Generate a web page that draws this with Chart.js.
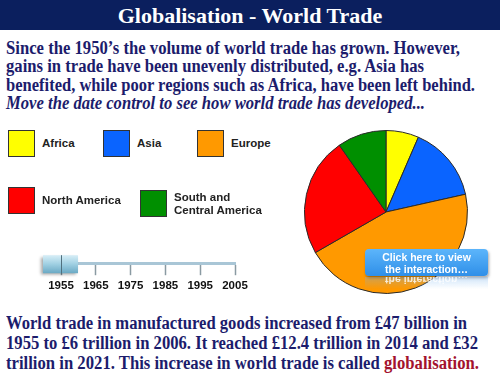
<!DOCTYPE html>
<html>
<head>
<meta charset="utf-8">
<script src="https://cdn.jsdelivr.net/npm/chart.js@4"></script>
<style>
  body { margin: 0; width: 500px; height: 375px; background: #fff; position: relative; overflow: hidden; font-family: "Liberation Serif", serif; }
  .bar { position: absolute; left: 0; top: 0; width: 500px; height: 30px; background: #0b1f5e; color: #fff; font-weight: bold; font-size: 22px; text-align: center; line-height: 31px; }
  .line { position: absolute; left: 6px; color: #1c1c6c; font-weight: bold; font-size: 18px; white-space: nowrap; transform-origin: 0 50%; }
  .red { color: #a3122e; }
  .key { position: absolute; width: 25px; height: 25px; border: 1px solid #333; }
  .keylabel { position: absolute; font-family: "Liberation Sans", sans-serif; font-weight: bold; font-size: 11.5px; color: #222; line-height: 13px; }
  #pie { position: absolute; left: 304px; top: 130px; }
  #slider { position: absolute; left: 20px; top: 213px; }
  .btn { position: absolute; left: 365px; top: 249px; width: 123px; height: 27px; border-radius: 4px; background: linear-gradient(#5cb5fb, #2f8fe8); box-shadow: 1px 2px 3px rgba(0,0,0,0.35); color: #fff; font-family: "Liberation Sans", sans-serif; font-weight: bold; font-size: 10.5px; line-height: 12px; text-align: center; padding-top: 2px; box-sizing: border-box; }
  .refl { position: absolute; left: 365px; top: 277px; width: 123px; height: 12px; overflow: hidden; background: linear-gradient(rgba(120,180,240,0.35), rgba(255,255,255,0)); color: rgba(255,255,255,0.8); font-family: "Liberation Sans", sans-serif; font-weight: bold; font-size: 10.5px; text-align: center; }
  .refl span { display: block; transform: scaleY(-1); line-height: 12px; margin-top: -3px; }
</style>
</head>
<body>
<div class="bar">Globalisation - World Trade</div>
<div class="line" data-w="454" style="top:38px">Since the 1950’s the volume of world trade has grown. However,</div>
<div class="line" data-w="418" style="top:56px">gains in trade have been unevenly distributed, e.g. Asia has</div>
<div class="line" data-w="469" style="top:75px">benefited, while poor regions such as Africa, have been left behind.</div>
<div class="line" data-w="419" style="top:93px"><i>Move the date control to see how world trade has developed...</i></div>

<canvas id="slider" width="240" height="84"></canvas>
<div id="legend"></div>
<canvas id="pie" width="164" height="164"></canvas>

<div class="btn">Click here to view<br>the interaction…</div>
<div class="refl"><span>the interaction…</span></div>

<div class="line" data-w="461" style="top:313px">World trade in manufactured goods increased from £47 billion in</div>
<div class="line" data-w="472" style="top:333px">1955 to £6 trillion in 2006. It reached £12.4 trillion in 2014 and £32</div>
<div class="line" data-w="473" style="top:353px">trillion in 2021. This increase in world trade is called <span class="red">globalisation.</span></div>

<script>
const regions = ["Africa", "Asia", "Europe", "North America", "South and Central America"];
const shares = [6.5, 15, 45.2, 23.6, 9.7];
const regionColours = ["#ffff00", "#0a64ff", "#ff9900", "#ff0000", "#008f00"];
const years = ["1955", "1965", "1975", "1985", "1995", "2005"];
const selectedYear = "1955";

// squeeze each text line to the width it has on the slide
for (let el of document.querySelectorAll(".line")) {
  const w = el.getBoundingClientRect().width;
  el.style.transform = "scaleX(" + (Number(el.dataset.w) / w) + ")";
}

// legend boxes, laid out like the slide
const legendSpots = [[8, 130], [103, 130], [197, 130], [8, 187], [140, 190]];
const legend = document.getElementById("legend");
regions.forEach((name, i) => {
  const [x, y] = legendSpots[i];
  const box = document.createElement("div");
  box.className = "key";
  box.style.left = x + "px";
  box.style.top = y + "px";
  box.style.background = regionColours[i];
  legend.append(box);
  const lab = document.createElement("div");
  lab.className = "keylabel";
  lab.style.left = (x + 34) + "px";
  if (name == "South and Central America") {
    lab.innerHTML = "South and<br>Central America";
    lab.style.top = (y + 1) + "px";
  } else {
    lab.textContent = name;
    lab.style.top = (y + 7) + "px";
  }
  legend.append(lab);
});

new Chart(document.getElementById("pie"), {
  type: "pie",
  data: {
    labels: regions,
    datasets: [{
      data: shares,
      backgroundColor: regionColours,
      borderColor: "#2a2a2a",
      borderWidth: 1,
    }],
  },
  options: {
    responsive: false,
    animation: false,
    layout: { padding: 0 },
    plugins: { legend: { display: false }, tooltip: { enabled: false } },
  },
});

// the date control: a year axis with a thumb on the chosen year
const thumb = {
  id: "thumb",
  afterDraw(chart) {
    const ctx = chart.ctx;
    const x = chart.scales.x.getPixelForValue(years.indexOf(selectedYear));
    const top = chart.scales.x.top;
    ctx.save();
    ctx.shadowColor = "rgba(0,0,0,0.35)";
    ctx.shadowOffsetX = -2;
    ctx.shadowOffsetY = 2;
    ctx.shadowBlur = 3;
    const g = ctx.createLinearGradient(0, top - 8, 0, top + 10);
    g.addColorStop(0, "#d7eef7");
    g.addColorStop(0.5, "#9fcfe2");
    g.addColorStop(1, "#6aa9c4");
    ctx.fillStyle = g;
    ctx.fillRect(x - 18, top - 8, 35, 18);
    ctx.restore();
    ctx.strokeStyle = "#50707e";
    ctx.lineWidth = 1;
    ctx.beginPath();
    ctx.moveTo(Math.round(x) + 0.5, top - 8);
    ctx.lineTo(Math.round(x) + 0.5, top + 11);
    ctx.stroke();
  },
};

new Chart(document.getElementById("slider"), {
  type: "line",
  data: { labels: years, datasets: [{ data: [] }] },
  options: {
    responsive: false,
    animation: false,
    layout: { padding: { left: 41, right: 25, top: 0, bottom: 0 } },
    plugins: { legend: { display: false }, tooltip: { enabled: false } },
    scales: {
      y: { display: false },
      x: {
        type: "category",
        offset: false,
        border: { color: "#a9c6d6", width: 3 },
        grid: { drawOnChartArea: false, offset: false, tickLength: 12, color: "#8a9aa2", tickWidth: 1.5 },
        ticks: {
          color: "#111",
          padding: 4,
          maxRotation: 0,
          autoSkip: false,
          font: { family: "Liberation Sans", weight: "bold", size: 11.5 },
        },
      },
    },
  },
  plugins: [thumb],
});
</script>
</body>
</html>
